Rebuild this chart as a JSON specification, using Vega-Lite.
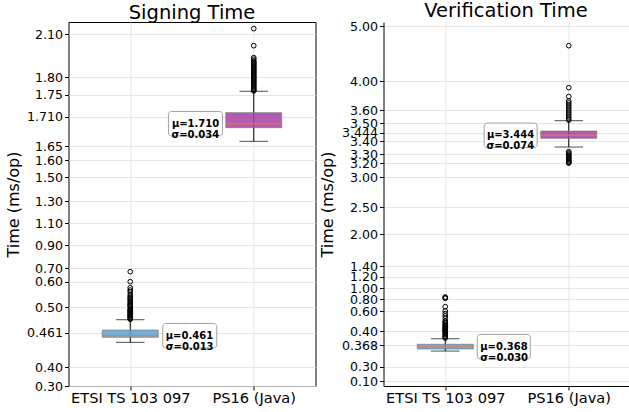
{
  "$schema": "https://vega.github.io/schema/vega-lite/v6.json",
  "background": "white",
  "padding": {"left": 4.5, "top": 0, "right": 0, "bottom": 0},
  "spacing": 68,
  "bounds": "flush",
  "datasets": {
    "boxes": [
      {"panel": "sign", "cat": "ETSI TS 103 097", "lo": 0.444, "q1": 0.4529, "median": 0.4557, "q3": 0.465, "hi": 0.4807, "label": "μ=0.461\nσ=0.013"},
      {"panel": "sign", "cat": "PS16 (Java)", "lo": 1.6596, "q1": 1.6875, "median": 1.6957, "q3": 1.7173, "hi": 1.7598, "label": "μ=1.710\nσ=0.034"},
      {"panel": "verify", "cat": "ETSI TS 103 097", "lo": 0.349, "q1": 0.3555, "median": 0.3627, "q3": 0.3696, "hi": 0.3823, "label": "μ=0.368\nσ=0.030"},
      {"panel": "verify", "cat": "PS16 (Java)", "lo": 3.355, "q1": 3.414, "median": 3.43, "q3": 3.454, "hi": 3.52, "label": "μ=3.444\nσ=0.074"}
    ],
    "outliers": [
      {"panel": "sign", "cat": "ETSI TS 103 097", "v": 0.675},
      {"panel": "sign", "cat": "ETSI TS 103 097", "v": 0.6},
      {"panel": "sign", "cat": "ETSI TS 103 097", "v": 0.576},
      {"panel": "sign", "cat": "ETSI TS 103 097", "v": 0.567},
      {"panel": "sign", "cat": "ETSI TS 103 097", "v": 0.56},
      {"panel": "sign", "cat": "ETSI TS 103 097", "v": 0.55},
      {"panel": "sign", "cat": "ETSI TS 103 097", "v": 0.543},
      {"panel": "sign", "cat": "ETSI TS 103 097", "v": 0.537},
      {"panel": "sign", "cat": "ETSI TS 103 097", "v": 0.532},
      {"panel": "sign", "cat": "ETSI TS 103 097", "v": 0.528},
      {"panel": "sign", "cat": "ETSI TS 103 097", "v": 0.522},
      {"panel": "sign", "cat": "ETSI TS 103 097", "v": 0.517},
      {"panel": "sign", "cat": "ETSI TS 103 097", "v": 0.512},
      {"panel": "sign", "cat": "ETSI TS 103 097", "v": 0.508},
      {"panel": "sign", "cat": "ETSI TS 103 097", "v": 0.505},
      {"panel": "sign", "cat": "ETSI TS 103 097", "v": 0.502},
      {"panel": "sign", "cat": "ETSI TS 103 097", "v": 0.498},
      {"panel": "sign", "cat": "ETSI TS 103 097", "v": 0.4965},
      {"panel": "sign", "cat": "ETSI TS 103 097", "v": 0.4952},
      {"panel": "sign", "cat": "ETSI TS 103 097", "v": 0.494},
      {"panel": "sign", "cat": "ETSI TS 103 097", "v": 0.4928},
      {"panel": "sign", "cat": "ETSI TS 103 097", "v": 0.4917},
      {"panel": "sign", "cat": "ETSI TS 103 097", "v": 0.4903},
      {"panel": "sign", "cat": "ETSI TS 103 097", "v": 0.489},
      {"panel": "sign", "cat": "ETSI TS 103 097", "v": 0.4878},
      {"panel": "sign", "cat": "ETSI TS 103 097", "v": 0.4866},
      {"panel": "sign", "cat": "ETSI TS 103 097", "v": 0.4853},
      {"panel": "sign", "cat": "ETSI TS 103 097", "v": 0.484},
      {"panel": "sign", "cat": "ETSI TS 103 097", "v": 0.4825},
      {"panel": "sign", "cat": "ETSI TS 103 097", "v": 0.4814},
      {"panel": "sign", "cat": "PS16 (Java)", "v": 2.137},
      {"panel": "sign", "cat": "PS16 (Java)", "v": 2.019},
      {"panel": "sign", "cat": "PS16 (Java)", "v": 1.936},
      {"panel": "sign", "cat": "PS16 (Java)", "v": 1.925},
      {"panel": "sign", "cat": "PS16 (Java)", "v": 1.913},
      {"panel": "sign", "cat": "PS16 (Java)", "v": 1.905},
      {"panel": "sign", "cat": "PS16 (Java)", "v": 1.899},
      {"panel": "sign", "cat": "PS16 (Java)", "v": 1.892},
      {"panel": "sign", "cat": "PS16 (Java)", "v": 1.885},
      {"panel": "sign", "cat": "PS16 (Java)", "v": 1.878},
      {"panel": "sign", "cat": "PS16 (Java)", "v": 1.871},
      {"panel": "sign", "cat": "PS16 (Java)", "v": 1.864},
      {"panel": "sign", "cat": "PS16 (Java)", "v": 1.857},
      {"panel": "sign", "cat": "PS16 (Java)", "v": 1.85},
      {"panel": "sign", "cat": "PS16 (Java)", "v": 1.844},
      {"panel": "sign", "cat": "PS16 (Java)", "v": 1.837},
      {"panel": "sign", "cat": "PS16 (Java)", "v": 1.83},
      {"panel": "sign", "cat": "PS16 (Java)", "v": 1.823},
      {"panel": "sign", "cat": "PS16 (Java)", "v": 1.816},
      {"panel": "sign", "cat": "PS16 (Java)", "v": 1.809},
      {"panel": "sign", "cat": "PS16 (Java)", "v": 1.802},
      {"panel": "sign", "cat": "PS16 (Java)", "v": 1.798},
      {"panel": "sign", "cat": "PS16 (Java)", "v": 1.795},
      {"panel": "sign", "cat": "PS16 (Java)", "v": 1.792},
      {"panel": "sign", "cat": "PS16 (Java)", "v": 1.789},
      {"panel": "sign", "cat": "PS16 (Java)", "v": 1.786},
      {"panel": "sign", "cat": "PS16 (Java)", "v": 1.784},
      {"panel": "sign", "cat": "PS16 (Java)", "v": 1.781},
      {"panel": "sign", "cat": "PS16 (Java)", "v": 1.778},
      {"panel": "sign", "cat": "PS16 (Java)", "v": 1.775},
      {"panel": "sign", "cat": "PS16 (Java)", "v": 1.772},
      {"panel": "sign", "cat": "PS16 (Java)", "v": 1.769},
      {"panel": "sign", "cat": "PS16 (Java)", "v": 1.766},
      {"panel": "sign", "cat": "PS16 (Java)", "v": 1.763},
      {"panel": "sign", "cat": "PS16 (Java)", "v": 1.761},
      {"panel": "verify", "cat": "ETSI TS 103 097", "v": 0.837},
      {"panel": "verify", "cat": "ETSI TS 103 097", "v": 0.824},
      {"panel": "verify", "cat": "ETSI TS 103 097", "v": 0.813},
      {"panel": "verify", "cat": "ETSI TS 103 097", "v": 0.672},
      {"panel": "verify", "cat": "ETSI TS 103 097", "v": 0.6},
      {"panel": "verify", "cat": "ETSI TS 103 097", "v": 0.573},
      {"panel": "verify", "cat": "ETSI TS 103 097", "v": 0.55},
      {"panel": "verify", "cat": "ETSI TS 103 097", "v": 0.527},
      {"panel": "verify", "cat": "ETSI TS 103 097", "v": 0.5},
      {"panel": "verify", "cat": "ETSI TS 103 097", "v": 0.49},
      {"panel": "verify", "cat": "ETSI TS 103 097", "v": 0.477},
      {"panel": "verify", "cat": "ETSI TS 103 097", "v": 0.465},
      {"panel": "verify", "cat": "ETSI TS 103 097", "v": 0.455},
      {"panel": "verify", "cat": "ETSI TS 103 097", "v": 0.445},
      {"panel": "verify", "cat": "ETSI TS 103 097", "v": 0.435},
      {"panel": "verify", "cat": "ETSI TS 103 097", "v": 0.427},
      {"panel": "verify", "cat": "ETSI TS 103 097", "v": 0.42},
      {"panel": "verify", "cat": "ETSI TS 103 097", "v": 0.41},
      {"panel": "verify", "cat": "ETSI TS 103 097", "v": 0.405},
      {"panel": "verify", "cat": "ETSI TS 103 097", "v": 0.4},
      {"panel": "verify", "cat": "ETSI TS 103 097", "v": 0.398},
      {"panel": "verify", "cat": "ETSI TS 103 097", "v": 0.3954},
      {"panel": "verify", "cat": "ETSI TS 103 097", "v": 0.393},
      {"panel": "verify", "cat": "ETSI TS 103 097", "v": 0.391},
      {"panel": "verify", "cat": "ETSI TS 103 097", "v": 0.388},
      {"panel": "verify", "cat": "ETSI TS 103 097", "v": 0.386},
      {"panel": "verify", "cat": "ETSI TS 103 097", "v": 0.384},
      {"panel": "verify", "cat": "PS16 (Java)", "v": 4.644},
      {"panel": "verify", "cat": "PS16 (Java)", "v": 3.912},
      {"panel": "verify", "cat": "PS16 (Java)", "v": 3.79},
      {"panel": "verify", "cat": "PS16 (Java)", "v": 3.728},
      {"panel": "verify", "cat": "PS16 (Java)", "v": 3.7},
      {"panel": "verify", "cat": "PS16 (Java)", "v": 3.673},
      {"panel": "verify", "cat": "PS16 (Java)", "v": 3.646},
      {"panel": "verify", "cat": "PS16 (Java)", "v": 3.618},
      {"panel": "verify", "cat": "PS16 (Java)", "v": 3.595},
      {"panel": "verify", "cat": "PS16 (Java)", "v": 3.579},
      {"panel": "verify", "cat": "PS16 (Java)", "v": 3.564},
      {"panel": "verify", "cat": "PS16 (Java)", "v": 3.548},
      {"panel": "verify", "cat": "PS16 (Java)", "v": 3.532},
      {"panel": "verify", "cat": "PS16 (Java)", "v": 3.525},
      {"panel": "verify", "cat": "PS16 (Java)", "v": 3.32},
      {"panel": "verify", "cat": "PS16 (Java)", "v": 3.31},
      {"panel": "verify", "cat": "PS16 (Java)", "v": 3.302},
      {"panel": "verify", "cat": "PS16 (Java)", "v": 3.29},
      {"panel": "verify", "cat": "PS16 (Java)", "v": 3.281},
      {"panel": "verify", "cat": "PS16 (Java)", "v": 3.27},
      {"panel": "verify", "cat": "PS16 (Java)", "v": 3.259},
      {"panel": "verify", "cat": "PS16 (Java)", "v": 3.248},
      {"panel": "verify", "cat": "PS16 (Java)", "v": 3.237},
      {"panel": "verify", "cat": "PS16 (Java)", "v": 3.225},
      {"panel": "verify", "cat": "PS16 (Java)", "v": 3.214},
      {"panel": "verify", "cat": "PS16 (Java)", "v": 3.207},
      {"panel": "verify", "cat": "PS16 (Java)", "v": 3.203}
    ]
  },
  "hconcat": [
    {
      "width": 247,
      "height": 364,
      "title": {"text": "Signing Time"},
      "view": {"stroke": "black", "strokeWidth": 1},
      "layer": [
        {
          "data": {"name": "boxes"},
          "transform": [{"filter": "datum.panel == 'sign'"}],
          "mark": {"type": "rule", "color": "black", "strokeWidth": 1},
          "encoding": {
            "x": {"field": "cat", "type": "nominal", "title": null,
              "scale": {"type": "point", "domain": ["ETSI TS 103 097", "PS16 (Java)"], "range": [0, 247], "padding": 0.5},
              "axis": {"labelAngle": 0, "labelFontSize": 14.6, "tickSize": 4, "labelPadding": 0, "grid": true, "domain": false}},
            "y": {"field": "lo", "type": "quantitative", "title": "Time (ms/op)",
              "scale": {"type": "linear", "zero": false, "nice": false,
                "domain": [0.30, 0.40, 0.461, 0.50, 0.60, 0.70, 0.90, 1.10, 1.30, 1.50, 1.60, 1.65, 1.71, 1.75, 1.80, 2.10, 2.183],
                "range": [364, 345.3, 310.7, 285, 259.7, 246.3, 223.3, 201.3, 179.3, 155, 138.3, 124, 94.7, 72.7, 55.3, 12, 0]},
              "axis": {"values": [0.30, 0.40, 0.461, 0.50, 0.60, 0.70, 0.90, 1.10, 1.30, 1.50, 1.60, 1.65, 1.71, 1.75, 1.80, 2.10],
                "tickCount": 100,
                "labelExpr": "(datum.value == 0.461 || datum.value == 1.71) ? format(datum.value, '.3f') : format(datum.value, '.2f')",
                "labelOverlap": false, "labelFlush": false, "labelBound": false, "labelFontSize": 12.6, "tickSize": 4, "labelPadding": 2,
                "titleFontSize": 16, "titlePadding": 5, "grid": true, "domain": false}},
            "y2": {"field": "hi"}
          }
        },
        {
          "data": {"name": "boxes"},
          "transform": [{"filter": "datum.panel == 'sign'"}],
          "mark": {"type": "bar", "width": 56, "stroke": "#777777", "strokeWidth": 0.7, "fillOpacity": 0.85},
          "encoding": {
            "x": {"field": "cat", "type": "nominal", "title": null},
            "y": {"field": "q1", "type": "quantitative", "title": "Time (ms/op)"},
            "y2": {"field": "q3"},
            "fill": {"field": "cat", "type": "nominal", "scale": {"domain": ["ETSI TS 103 097", "PS16 (Java)"], "range": ["#4FA6E0", "#A63FA6"]}, "legend": null}
          }
        },
        {
          "data": {"name": "boxes"},
          "transform": [{"filter": "datum.panel == 'sign'"}],
          "mark": {"type": "tick", "orient": "horizontal", "size": 28.5, "thickness": 1, "color": "black"},
          "encoding": {
            "x": {"field": "cat", "type": "nominal", "title": null},
            "y": {"field": "lo", "type": "quantitative", "title": "Time (ms/op)"}
          }
        },
        {
          "data": {"name": "boxes"},
          "transform": [{"filter": "datum.panel == 'sign'"}],
          "mark": {"type": "tick", "orient": "horizontal", "size": 28.5, "thickness": 1, "color": "black"},
          "encoding": {
            "x": {"field": "cat", "type": "nominal", "title": null},
            "y": {"field": "hi", "type": "quantitative", "title": "Time (ms/op)"}
          }
        },
        {
          "data": {"name": "boxes"},
          "transform": [{"filter": "datum.panel == 'sign'"}],
          "mark": {"type": "tick", "orient": "horizontal", "size": 56, "thickness": 1.8, "color": "#EE7733"},
          "encoding": {
            "x": {"field": "cat", "type": "nominal", "title": null},
            "y": {"field": "median", "type": "quantitative", "title": "Time (ms/op)"}
          }
        },
        {
          "data": {"name": "outliers"},
          "transform": [{"filter": "datum.panel == 'sign'"}],
          "mark": {"type": "point", "shape": "circle", "filled": false, "size": 22, "stroke": "black", "strokeWidth": 1, "opacity": 1},
          "encoding": {
            "x": {"field": "cat", "type": "nominal", "title": null},
            "y": {"field": "v", "type": "quantitative", "title": "Time (ms/op)"}
          }
        },
        {
          "data": {"name": "boxes"},
          "transform": [{"filter": "datum.panel == 'sign' && datum.cat == 'ETSI TS 103 097'"}],
          "mark": {"type": "rect", "width": 54, "height": 24.5, "xOffset": 59.5, "cornerRadius": 3, "fill": "white", "stroke": "#a0a0a0", "strokeWidth": 1},
          "encoding": {
            "x": {"field": "cat", "type": "nominal", "title": null},
            "y": {"field": "median", "type": "quantitative", "title": "Time (ms/op)"}
          }
        },
        {
          "data": {"name": "boxes"},
          "transform": [{"filter": "datum.panel == 'sign' && datum.cat == 'PS16 (Java)'"}],
          "mark": {"type": "rect", "width": 54, "height": 24.5, "xOffset": -58.3, "cornerRadius": 3, "fill": "white", "stroke": "#a0a0a0", "strokeWidth": 1},
          "encoding": {
            "x": {"field": "cat", "type": "nominal", "title": null},
            "y": {"field": "median", "type": "quantitative", "title": "Time (ms/op)"}
          }
        },
        {
          "data": {"name": "boxes"},
          "transform": [{"filter": "datum.panel == 'sign' && datum.cat == 'ETSI TS 103 097'"}],
          "mark": {"type": "text", "align": "left", "baseline": "middle", "dx": 35.5, "font": "DejaVu Sans", "fontWeight": "bold", "fontSize": 10, "lineBreak": "\n", "lineHeight": 11, "color": "black"},
          "encoding": {
            "x": {"field": "cat", "type": "nominal", "title": null},
            "y": {"field": "median", "type": "quantitative", "title": "Time (ms/op)"},
            "text": {"field": "label"}
          }
        },
        {
          "data": {"name": "boxes"},
          "transform": [{"filter": "datum.panel == 'sign' && datum.cat == 'PS16 (Java)'"}],
          "mark": {"type": "text", "align": "right", "baseline": "middle", "dx": -34.5, "font": "DejaVu Sans", "fontWeight": "bold", "fontSize": 10, "lineBreak": "\n", "lineHeight": 11, "color": "black"},
          "encoding": {
            "x": {"field": "cat", "type": "nominal", "title": null},
            "y": {"field": "median", "type": "quantitative", "title": "Time (ms/op)"},
            "text": {"field": "label"}
          }
        }
      ]
    },
    {
      "width": 245,
      "height": 364,
      "title": {"text": "Verification Time"},
      "view": {"stroke": null},
      "layer": [
        {
          "data": {"name": "boxes"},
          "transform": [{"filter": "datum.panel == 'verify'"}],
          "mark": {"type": "rule", "color": "black", "strokeWidth": 1},
          "encoding": {
            "x": {"field": "cat", "type": "nominal", "title": null,
              "scale": {"type": "point", "domain": ["ETSI TS 103 097", "PS16 (Java)"], "range": [0, 247], "padding": 0.5},
              "axis": {"labelAngle": 0, "labelFontSize": 14.6, "tickSize": 4, "labelPadding": 0, "grid": true, "domain": true}},
            "y": {"field": "lo", "type": "quantitative", "title": "Time (ms/op)",
              "scale": {"type": "linear", "zero": false, "nice": false,
                "domain": [0.03, 0.10, 0.30, 0.368, 0.40, 0.60, 0.80, 1.00, 1.20, 1.40, 2.00, 2.50, 3.00, 3.20, 3.30, 3.40, 3.444, 3.50, 3.60, 4.00, 5.00, 5.07],
                "range": [364, 359, 344.7, 323, 309, 289, 277, 266.3, 254.7, 244.3, 212.3, 185, 155, 141.3, 132.3, 119, 110.7, 101.3, 88.3, 59.3, 4, 0]},
              "axis": {"values": [0.10, 0.30, 0.368, 0.40, 0.60, 0.80, 1.00, 1.20, 1.40, 2.00, 2.50, 3.00, 3.20, 3.30, 3.40, 3.444, 3.50, 3.60, 4.00, 5.00],
                "tickCount": 100,
                "labelExpr": "(datum.value == 0.368 || datum.value == 3.444) ? format(datum.value, '.3f') : format(datum.value, '.2f')",
                "labelOverlap": false, "labelFlush": false, "labelBound": false, "labelFontSize": 12.6, "tickSize": 4, "labelPadding": 2,
                "titleFontSize": 16, "titlePadding": 6, "grid": true, "domain": true}},
            "y2": {"field": "hi"}
          }
        },
        {
          "data": {"name": "boxes"},
          "transform": [{"filter": "datum.panel == 'verify'"}],
          "mark": {"type": "bar", "width": 56, "stroke": "#777777", "strokeWidth": 0.7, "fillOpacity": 0.85},
          "encoding": {
            "x": {"field": "cat", "type": "nominal", "title": null},
            "y": {"field": "q1", "type": "quantitative", "title": "Time (ms/op)"},
            "y2": {"field": "q3"},
            "fill": {"field": "cat", "type": "nominal", "scale": {"domain": ["ETSI TS 103 097", "PS16 (Java)"], "range": ["#4FA6E0", "#A63FA6"]}, "legend": null}
          }
        },
        {
          "data": {"name": "boxes"},
          "transform": [{"filter": "datum.panel == 'verify'"}],
          "mark": {"type": "tick", "orient": "horizontal", "size": 28.5, "thickness": 1, "color": "black"},
          "encoding": {
            "x": {"field": "cat", "type": "nominal", "title": null},
            "y": {"field": "lo", "type": "quantitative", "title": "Time (ms/op)"}
          }
        },
        {
          "data": {"name": "boxes"},
          "transform": [{"filter": "datum.panel == 'verify'"}],
          "mark": {"type": "tick", "orient": "horizontal", "size": 28.5, "thickness": 1, "color": "black"},
          "encoding": {
            "x": {"field": "cat", "type": "nominal", "title": null},
            "y": {"field": "hi", "type": "quantitative", "title": "Time (ms/op)"}
          }
        },
        {
          "data": {"name": "boxes"},
          "transform": [{"filter": "datum.panel == 'verify'"}],
          "mark": {"type": "tick", "orient": "horizontal", "size": 56, "thickness": 1.5, "color": "#EE7733"},
          "encoding": {
            "x": {"field": "cat", "type": "nominal", "title": null},
            "y": {"field": "median", "type": "quantitative", "title": "Time (ms/op)"}
          }
        },
        {
          "data": {"name": "outliers"},
          "transform": [{"filter": "datum.panel == 'verify'"}],
          "mark": {"type": "point", "shape": "circle", "filled": false, "size": 22, "stroke": "black", "strokeWidth": 1, "opacity": 1},
          "encoding": {
            "x": {"field": "cat", "type": "nominal", "title": null},
            "y": {"field": "v", "type": "quantitative", "title": "Time (ms/op)"}
          }
        },
        {
          "data": {"name": "boxes"},
          "transform": [{"filter": "datum.panel == 'verify' && datum.cat == 'ETSI TS 103 097'"}],
          "mark": {"type": "rect", "width": 53, "height": 24.5, "xOffset": 58.5, "cornerRadius": 3, "fill": "white", "stroke": "#a0a0a0", "strokeWidth": 1},
          "encoding": {
            "x": {"field": "cat", "type": "nominal", "title": null},
            "y": {"field": "median", "type": "quantitative", "title": "Time (ms/op)"}
          }
        },
        {
          "data": {"name": "boxes"},
          "transform": [{"filter": "datum.panel == 'verify' && datum.cat == 'PS16 (Java)'"}],
          "mark": {"type": "rect", "width": 53, "height": 24.5, "xOffset": -58.1, "cornerRadius": 3, "fill": "white", "stroke": "#a0a0a0", "strokeWidth": 1},
          "encoding": {
            "x": {"field": "cat", "type": "nominal", "title": null},
            "y": {"field": "median", "type": "quantitative", "title": "Time (ms/op)"}
          }
        },
        {
          "data": {"name": "boxes"},
          "transform": [{"filter": "datum.panel == 'verify' && datum.cat == 'ETSI TS 103 097'"}],
          "mark": {"type": "text", "align": "left", "baseline": "middle", "dx": 35, "font": "DejaVu Sans", "fontWeight": "bold", "fontSize": 10, "lineBreak": "\n", "lineHeight": 11, "color": "black"},
          "encoding": {
            "x": {"field": "cat", "type": "nominal", "title": null},
            "y": {"field": "median", "type": "quantitative", "title": "Time (ms/op)"},
            "text": {"field": "label"}
          }
        },
        {
          "data": {"name": "boxes"},
          "transform": [{"filter": "datum.panel == 'verify' && datum.cat == 'PS16 (Java)'"}],
          "mark": {"type": "text", "align": "right", "baseline": "middle", "dx": -34.5, "font": "DejaVu Sans", "fontWeight": "bold", "fontSize": 10, "lineBreak": "\n", "lineHeight": 11, "color": "black"},
          "encoding": {
            "x": {"field": "cat", "type": "nominal", "title": null},
            "y": {"field": "median", "type": "quantitative", "title": "Time (ms/op)"},
            "text": {"field": "label"}
          }
        },
        {
          "mark": {"type": "rule", "color": "black", "strokeWidth": 1},
          "encoding": {"y": {"datum": 5.07, "type": "quantitative"}}
        }
      ]
    }
  ],
  "config": {
    "font": "DejaVu Sans",
    "view": {"stroke": null},
    "axis": {"labelFont": "DejaVu Sans", "titleFont": "DejaVu Sans", "labelColor": "black", "titleColor": "black", "tickColor": "black", "domainColor": "black", "gridColor": "#dedede", "gridWidth": 0.8, "titleFontWeight": "normal"},
    "title": {"font": "DejaVu Sans", "fontSize": 19.5, "fontWeight": "normal", "color": "black", "offset": -1}
  }
}
